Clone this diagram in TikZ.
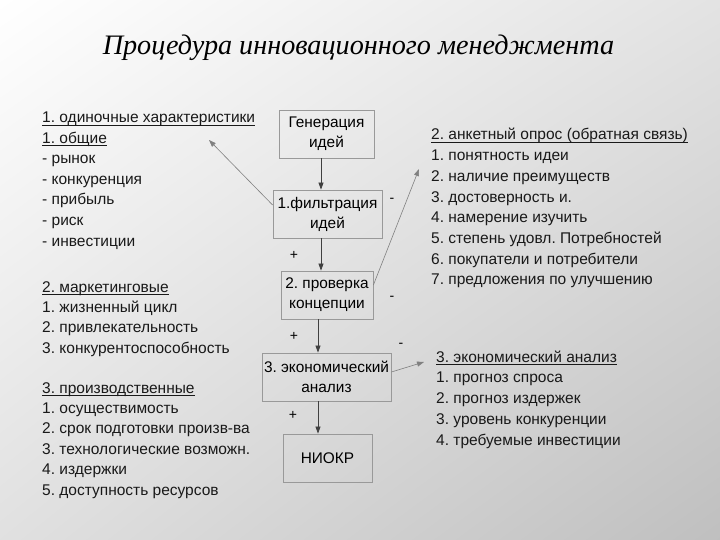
\documentclass[tikz,border=0pt]{standalone}
\usepackage{fontspec}
\setmainfont{Liberation Sans}
\newfontfamily\titlefont{Liberation Serif}
\usetikzlibrary{arrows.meta,calc,shadings}
\frenchspacing
\newcommand\myul[1]{\setbox0\hbox{#1}\rlap{\rule[-2.6pt]{\wd0}{0.75pt}}\box0}
\begin{document}
\begin{tikzpicture}[x=1pt,y=-1pt,
 box/.style={draw=black!40, line width=0.8pt, minimum width=#1, minimum height=48, align=center, font=\fontsize{15.4}{20}\selectfont, inner sep=0},
 lst/.style={anchor=base west, inner sep=0, font=\fontsize{15.5}{18}\selectfont, text=black!90},
 flow/.style={draw=black!75, line width=0.7pt, -{Triangle[length=7pt,width=5pt]}},
 side/.style={draw=black!50, line width=0.6pt, -{Triangle[length=7pt,width=5pt]}},
 sign/.style={font=\fontsize{14}{14}\selectfont, inner sep=0}]
\shade[upper left=white, upper right=black!11, lower left=black!12, lower right=black!25] (0,0) rectangle (720,540);
\useasboundingbox (0,0) rectangle (720,540);

\node[anchor=base, inner sep=0, font=\titlefont\itshape\fontsize{28.2}{30}\selectfont] (title) at (358.5,55) {Процедура инновационного менеджмента};

% boxes
\node[box=95] (gen) at (326.5,134) {Генерация\\идей};
\node[box=109] (filt) at (327.5,214) {1.фильтрация\\идей};
\node[box=92] (prov) at (327,295) {2. проверка\\концепции};
\node[box=129] (econ) at (326.5,377) {3. экономический\\анализ};
\node[box=89] (niokr) at (327.5,458) {НИОКР};

% vertical arrows
\coordinate (v1) at (321,0);
\coordinate (v2) at (318,0);
\draw[flow] (gen.south -| v1) -- (filt.north -| v1);
\draw[flow] (filt.south -| v1) -- (prov.north -| v1);
\draw[flow] (prov.south -| v2) -- (econ.north -| v2);
\draw[flow] (econ.south -| v2) -- (niokr.north -| v2);

% side arrows
\coordinate (t1) at (209,140);
\coordinate (t2) at (419,169);
\coordinate (t3) at (424,362);
\draw[side] ($(filt.west)+(0,-9)$) -- (t1);
\draw[side] ($(prov.east)+(0,-10)$) -- (t2);
\draw[side] ($(econ.east)+(0,-5)$) -- (t3);

% signs
\node[sign] (s1) at (392,200) {-};
\node[sign] (s2) at (294,255) {+};
\node[sign] (s3) at (392,298) {-};
\node[sign] (s4) at (294,336) {+};
\node[sign] (s5) at (401,345) {-};
\node[sign] (s6) at (293,415) {+};

% left lists
\foreach \t [count=\i from 0] in {{\myul{1. одиночные характеристики}}, {\myul{1. общие}}, - рынок, - конкуренция, - прибыль, - риск, - инвестиции}
  \node[lst] (la\i) at (42,{123+20.5*\i}) {\t};
\foreach \t [count=\i from 0] in {{\myul{2. маркетинговые}}, 1. жизненный цикл, 2. привлекательность, 3. конкурентоспособность}
  \node[lst] (lb\i) at (42,{292+20.4*\i}) {\t};
\foreach \t [count=\i from 0] in {{\myul{3. производственные}}, 1. осуществимость, 2. срок подготовки произв-ва, 3. технологические возможн., 4. издержки, 5. доступность ресурсов}
  \node[lst] (lc\i) at (42,{393+20.4*\i}) {\t};

% right lists
\foreach \t [count=\i from 0] in {{\myul{2. анкетный опрос (обратная связь)}}, 1. понятность идеи, 2. наличие преимуществ, 3. достоверность и., 4. намерение изучить, 5. степень удовл. Потребностей, 6. покупатели и потребители, 7. предложения по улучшению}
  \node[lst] (ra\i) at (431,{140+20.7*\i}) {\t};
\foreach \t [count=\i from 0] in {{\myul{3. экономический анализ}}, 1. прогноз спроса, 2. прогноз издержек, 3. уровень конкуренции, 4. требуемые инвестиции}
  \node[lst] (rb\i) at (436,{362+20.75*\i}) {\t};
\end{tikzpicture}
\end{document}
